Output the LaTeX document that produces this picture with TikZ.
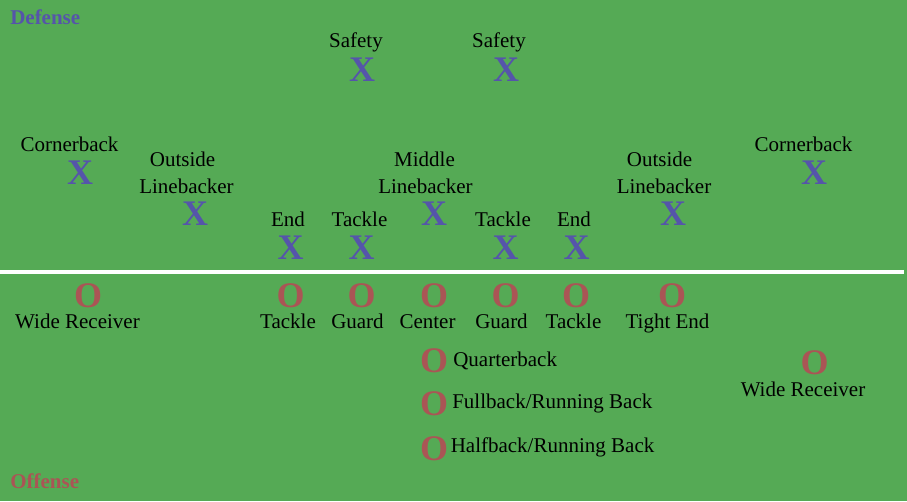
\documentclass[tikz,border=0pt]{standalone}
\usepackage{fontspec}
\setmainfont{Liberation Serif}
\definecolor{field}{RGB}{85,170,85}
\definecolor{defblue}{RGB}{85,85,170}
\definecolor{offred}{RGB}{170,85,85}
\begin{document}
\begin{tikzpicture}[x=0.75pt,y=-0.75pt,
  defx/.style={anchor=base,inner sep=0pt,text=defblue,font=\fontsize{27}{30}\selectfont\bfseries},
  offo/.style={anchor=base,inner sep=0pt,text=offred,font=\fontsize{27}{30}\selectfont\bfseries},
  role/.style={anchor=base,inner sep=0pt,font=\fontsize{15.75}{18}\selectfont},
  side/.style={anchor=base west,inner sep=0pt,font=\fontsize{15.75}{18}\selectfont\bfseries}]
  \useasboundingbox (0,0) rectangle (907,501);
  \fill[field] (0,0) rectangle (907,501);
  \node[side,text=defblue] (def) at (10,24) {Defense};
  \node[side,text=offred] (off) at (10,488) {Offense};
  % line of scrimmage
  \coordinate (los-w) at (0,272);
  \coordinate (los-e) at (904,272);
  \draw[white,line width=3pt] (los-w) -- (los-e);
  % defense
  \node[role] (fs-l) at (356,47) {Safety};
  \node[defx] (fs) at (362,81.5) {X};
  \node[role] (ss-l) at (499,47) {Safety};
  \node[defx] (ss) at (506,81.5) {X};
  \node[role] (lcb-l) at (69.5,151) {Cornerback};
  \node[defx] (lcb) at (80,184) {X};
  \node[role] (rcb-l) at (803.5,151) {Cornerback};
  \node[defx] (rcb) at (814,184) {X};
  \node[role] (lolb-l1) at (182.5,166) {Outside};
  \node[role] (lolb-l2) at (186.5,193) {Linebacker};
  \node[defx] (lolb) at (195,225) {X};
  \node[role] (mlb-l1) at (424.5,166) {Middle};
  \node[role] (mlb-l2) at (425.5,193) {Linebacker};
  \node[defx] (mlb) at (434,225) {X};
  \node[role] (rolb-l1) at (659.5,166) {Outside};
  \node[role] (rolb-l2) at (664,193) {Linebacker};
  \node[defx] (rolb) at (673,225) {X};
  \node[role] (lde-l) at (288,226) {End};
  \node[defx] (lde) at (290.5,259.5) {X};
  \node[role] (ldt-l) at (359.5,226) {Tackle};
  \node[defx] (ldt) at (361.5,259.5) {X};
  \node[role] (rdt-l) at (503,226) {Tackle};
  \node[defx] (rdt) at (505.5,259.5) {X};
  \node[role] (rde-l) at (574,226) {End};
  \node[defx] (rde) at (576.5,259.5) {X};
  % offense
  \node[offo] (lwr) at (88,307.5) {O};
  \node[role] (lwr-l) at (77.5,328) {Wide Receiver};
  \node[offo] (lt) at (290.5,307.5) {O};
  \node[role] (lt-l) at (288,328) {Tackle};
  \node[offo] (lg) at (361.5,307.5) {O};
  \node[role] (lg-l) at (357.5,328) {Guard};
  \node[offo] (c) at (434,307.5) {O};
  \node[role] (c-l) at (427.5,328) {Center};
  \node[offo] (rg) at (505.5,307.5) {O};
  \node[role] (rg-l) at (501.5,328) {Guard};
  \node[offo] (rt) at (576,307.5) {O};
  \node[role] (rt-l) at (573.5,328) {Tackle};
  \node[offo] (te) at (672,307.5) {O};
  \node[role] (te-l) at (667.5,328) {Tight End};
  \node[offo] (qb) at (434,372.5) {O};
  \node[role,anchor=base west] (qb-l) at (453,366.5) {Quarterback};
  \node[offo] (fb) at (434,415.5) {O};
  \node[role,anchor=base west] (fb-l) at (452,408) {Fullback/Running Back};
  \node[offo] (hb) at (434,460.5) {O};
  \node[role,anchor=base west] (hb-l) at (450.5,452.5) {Halfback/Running Back};
  \node[offo] (rwr) at (814.5,374.5) {O};
  \node[role] (rwr-l) at (803,396.5) {Wide Receiver};
\end{tikzpicture}
\end{document}
